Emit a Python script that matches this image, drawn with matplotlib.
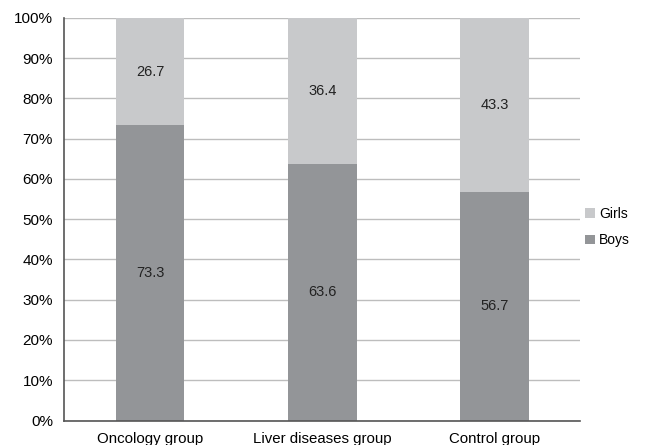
import matplotlib.pyplot as plt
import numpy as np

plt.rcParams['font.family'] = ['Liberation Sans', 'DejaVu Sans']

groups = ['Oncology group', 'Liver diseases group', 'Control group']
boys = [73.3, 63.6, 56.7]
girls = [26.7, 36.4, 43.3]

boys_color = '#939598'
girls_color = '#c8c9cb'

fig = plt.figure(figsize=(6.57, 4.45), dpi=100)
ax = fig.add_axes([0.0974, 0.055, 0.786, 0.905])

x = np.arange(len(groups))
b1 = ax.bar(x, boys, width=0.4, color=boys_color, label='Boys', zorder=2)
b2 = ax.bar(x, girls, width=0.4, bottom=boys, color=girls_color, label='Girls', zorder=2)

for i in range(len(groups)):
    ax.text(x[i], boys[i] / 2, f'{boys[i]:.1f}', ha='center', va='center', fontsize=10.5, color='#222222')
    ax.text(x[i], boys[i] + girls[i] / 2, f'{girls[i]:.1f}', ha='center', va='center', fontsize=10.5, color='#222222')

ax.set_xlim(-0.5, 2.5)
ax.set_ylim(0, 100)
ax.set_yticks(np.arange(0, 101, 10))
ax.set_yticklabels([f'{v}%' for v in range(0, 101, 10)], fontsize=11)
ax.set_xticks(x)
ax.set_xticklabels(groups, fontsize=10.8)
ax.tick_params(axis='both', length=0, pad=8)
ax.tick_params(axis='x', pad=8)
ax.yaxis.grid(True, color='#bdbdbd', linewidth=1, zorder=0)
ax.set_axisbelow(True)

for s in ['top', 'right']:
    ax.spines[s].set_visible(False)
for s in ['left', 'bottom']:
    ax.spines[s].set_color('#555555')
    ax.spines[s].set_linewidth(1.2)

handles = [b2, b1]
ax.legend(handles, ['Girls', 'Boys'], loc='center left', bbox_to_anchor=(0.99, 0.48),
          frameon=False, fontsize=10, handlelength=0.7, handleheight=0.7,
          handletextpad=0.3, labelspacing=0.9, borderaxespad=0.3)

fig.savefig('out.png', dpi=100, facecolor='white')
